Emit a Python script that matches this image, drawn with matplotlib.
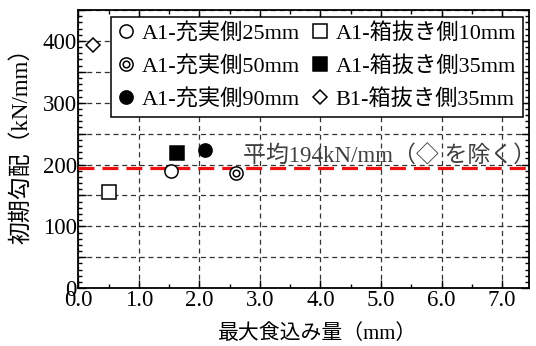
import matplotlib
matplotlib.use("Agg")
import matplotlib.pyplot as plt
from matplotlib.ticker import MultipleLocator, FuncFormatter

plt.rcParams['font.family'] = ['Liberation Serif', 'Noto Sans CJK JP']

# 最大食込み量 (mm) と 初期勾配 (kN/mm)
labels = ['A1-充実側25mm', 'A1-充実側50mm', 'A1-充実側90mm',
          'A1-箱抜き側10mm', 'A1-箱抜き側35mm', 'B1-箱抜き側35mm']
disp = [1.53, 2.60, 2.09, 0.51, 1.63, 0.25]
stiff = [190, 186, 223, 155, 219, 393]
avg_stiff = 194

fig = plt.figure(figsize=(5.36, 3.46), dpi=100)
ax = fig.add_axes([0.146, 0.167, 0.8415, 0.804])

ms = 9.5
k = dict(color='black', linestyle='none', markeredgewidth=1.1, markersize=ms)
h = []
# 充実側25mm
h.append(ax.plot(disp[0], stiff[0], marker='o', markerfacecolor='white', zorder=5, **k)[0])
# 充実側50mm (二重丸)
a = ax.plot(disp[1], stiff[1], marker='o', markerfacecolor='white', zorder=5, **k)[0]
b = ax.plot(disp[1], stiff[1], marker='o', markerfacecolor='white', zorder=6,
            color='black', linestyle='none', markeredgewidth=1.1, markersize=ms * 0.5)[0]
h.append((a, b))
# 充実側90mm
h.append(ax.plot(disp[2], stiff[2], marker='o', markerfacecolor='black', zorder=5, **k)[0])
# 箱抜き側10mm
h.append(ax.plot(disp[3], stiff[3], marker='s', markerfacecolor='white', zorder=5, **k)[0])
# 箱抜き側35mm
h.append(ax.plot(disp[4], stiff[4], marker='s', markerfacecolor='black', zorder=5, **k)[0])
# B1 箱抜き側35mm
h.append(ax.plot(disp[5], stiff[5], marker='D', markerfacecolor='white', zorder=5,
                 color='black', linestyle='none', markeredgewidth=1.1, markersize=ms * 0.72)[0])

# 平均線
ax.axhline(avg_stiff, color='#ee1111', linewidth=2.3, linestyle=(0, (5, 2.5)), zorder=4)
ax.text(2.72, avg_stiff + 2, '平均%dkN/mm（◇ を除く）' % avg_stiff, fontsize=16.5,
        color='#404040', va='bottom', ha='left', zorder=3,
        family=['Liberation Serif', 'Noto Sans CJK JP', 'DejaVu Sans'])

ax.set_xlim(0, 7.45)
ax.set_ylim(0, 450)
ax.xaxis.set_major_locator(MultipleLocator(1.0))
ax.xaxis.set_minor_locator(MultipleLocator(0.5))
ax.yaxis.set_major_locator(MultipleLocator(50))
ax.yaxis.set_minor_locator(MultipleLocator(10))
ax.xaxis.set_major_formatter(FuncFormatter(lambda v, p: '%.1f' % v))
ax.yaxis.set_major_formatter(FuncFormatter(lambda v, p: '%d' % v if round(v) % 100 == 0 else ''))
ax.tick_params(which='both', direction='in', top=True, right=True, labelsize=16.5, width=1.0)
ax.tick_params(which='major', length=6, pad=1)
ax.tick_params(which='minor', length=3)
ax.grid(True, which='major', color='#333333', linestyle=(0, (4, 3)), linewidth=0.9)
for s in ax.spines.values():
    s.set_linewidth(1.3)

ax.set_xlabel('最大食込み量（mm）', fontsize=15)
ax.set_ylabel('初期勾配（kN/mm）', fontsize=16.5)
ax.xaxis.set_label_coords(0.53, -0.13)
ax.yaxis.set_label_coords(-0.103, 0.53)

leg = ax.legend(h, labels, ncol=2, loc='upper right', fontsize=16, frameon=True,
                fancybox=False, edgecolor='black', framealpha=1,
                handlelength=0.8, handletextpad=0.3, columnspacing=0.5,
                labelspacing=0.55, borderpad=0.3, borderaxespad=0.3)
leg.get_frame().set_linewidth(1.1)

fig.savefig('out.png', dpi=100)
